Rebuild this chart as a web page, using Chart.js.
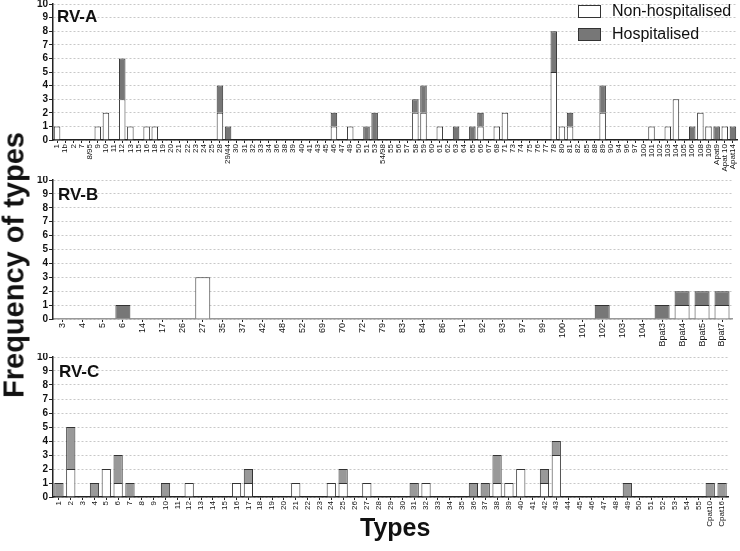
<!DOCTYPE html>
<html lang="en">
<head>
    <meta charset="UTF-8">
    <title>Frequency of RV types</title>
    <style>
        body {
            margin: 0;
            background: #fff;
            font-family: "Liberation Sans", Arial, sans-serif;
        }
        #wrap {
            position: relative;
            width: 740px;
            height: 551px;
            overflow: hidden;
        }
        canvas {
            position: absolute;
            left: 0;
        }
        .title {
            position: absolute;
            font-weight: bold;
            font-size: 17px;
            line-height: 1;
            color: #111;
        }
        .leg-box {
            position: absolute;
            left: 578px;
            width: 21px;
            height: 11px;
            border: 1px solid #333;
        }
        .leg-text {
            position: absolute;
            left: 612px;
            font-size: 16px;
            line-height: 1;
            color: #111;
        }
        #ytitle {
            position: absolute;
            left: 14px;
            top: 265px;
            transform: translate(-50%, -50%) rotate(-90deg);
            font-size: 29px;
            font-weight: bold;
            white-space: nowrap;
            color: #111;
        }
        #xtitle {
            position: absolute;
            left: 360px;
            top: 513px;
            font-size: 25px;
            font-weight: bold;
            color: #111;
        }
    </style>
    <script src="https://cdn.jsdelivr.net/npm/chart.js"></script>
</head>
<body>
<div id="wrap">
    <canvas id="chartA" width="740" height="180" style="top:0px"></canvas>
    <canvas id="chartB" width="740" height="170" style="top:176px"></canvas>
    <canvas id="chartC" width="740" height="180" style="top:353px"></canvas>

    <div class="title" style="left:57px; top:8px">RV-A</div>
    <div class="title" style="left:58px; top:186px">RV-B</div>
    <div class="title" style="left:59px; top:363px">RV-C</div>

    <div class="leg-box" style="top:5px; background:#fff"></div>
    <div class="leg-text" style="top:3px">Non-hospitalised</div>
    <div class="leg-box" style="top:28px; background:#777"></div>
    <div class="leg-text" style="top:26px">Hospitalised</div>

    <div id="ytitle">Frequency of types</div>
    <div id="xtitle">Types</div>
</div>

<script>
    // RV-A types
    const typesA = ["1", "1b", "2", "7", "8/95", "9", "10", "11", "12", "13",
        "15", "16", "18", "19", "20", "21", "22", "23", "24", "25",
        "28", "29/44", "30", "31", "32", "33", "34", "36", "38", "39",
        "40", "41", "43", "45", "46", "47", "49", "50", "51", "53",
        "54/98", "55", "56", "57", "58", "59", "60", "61", "62", "63",
        "64", "65", "66", "67", "68", "71", "73", "74", "75", "76",
        "77", "78", "80", "81", "82", "85", "88", "89", "90", "94",
        "96", "97", "100", "101", "102", "103", "104", "105", "106", "108",
        "109", "Apat9", "Apat 10", "Apat14"];
    const nonHospA = [1, 0, 0, 0, 0, 1, 2, 0, 3, 1,
        0, 1, 1, 0, 0, 0, 0, 0, 0, 0,
        2, 0, 0, 0, 0, 0, 0, 0, 0, 0,
        0, 0, 0, 0, 1, 0, 1, 0, 0, 0,
        0, 0, 0, 0, 2, 2, 0, 1, 0, 0,
        0, 0, 1, 0, 1, 2, 0, 0, 0, 0,
        0, 5, 1, 1, 0, 0, 0, 2, 0, 0,
        0, 0, 0, 1, 0, 1, 3, 0, 0, 2,
        1, 0, 1, 0];
    const hospA = [0, 0, 0, 0, 0, 0, 0, 0, 3, 0,
        0, 0, 0, 0, 0, 0, 0, 0, 0, 0,
        2, 1, 0, 0, 0, 0, 0, 0, 0, 0,
        0, 0, 0, 0, 1, 0, 0, 0, 1, 2,
        0, 0, 0, 0, 1, 2, 0, 0, 0, 1,
        0, 1, 1, 0, 0, 0, 0, 0, 0, 0,
        0, 3, 0, 1, 0, 0, 0, 2, 0, 0,
        0, 0, 0, 0, 0, 0, 0, 0, 1, 0,
        0, 1, 0, 1];

    // RV-B types
    const typesB = ["3", "4", "5", "6", "14", "17", "26", "27", "35", "37",
        "42", "48", "52", "69", "70", "72", "79", "83", "84", "86",
        "91", "92", "93", "97", "99", "100", "101", "102", "103", "104",
        "Bpat3", "Bpat4", "Bpat5", "Bpat7"];
    const nonHospB = [0, 0, 0, 0, 0, 0, 0, 3, 0, 0,
        0, 0, 0, 0, 0, 0, 0, 0, 0, 0,
        0, 0, 0, 0, 0, 0, 0, 0, 0, 0,
        0, 1, 1, 1];
    const hospB = [0, 0, 0, 1, 0, 0, 0, 0, 0, 0,
        0, 0, 0, 0, 0, 0, 0, 0, 0, 0,
        0, 0, 0, 0, 0, 0, 0, 1, 0, 0,
        1, 1, 1, 1];

    // RV-C types
    const typesC = ["1", "2", "3", "4", "5", "6", "7", "8", "9", "10",
        "11", "12", "13", "14", "15", "16", "17", "18", "19", "20",
        "21", "22", "23", "24", "25", "26", "27", "28", "29", "30",
        "31", "32", "33", "34", "35", "36", "37", "38", "39", "40",
        "41", "42", "43", "44", "45", "46", "47", "48", "49", "50",
        "51", "52", "53", "54", "55", "Cpat10", "Cpat16"];
    const nonHospC = [0, 2, 0, 0, 2, 1, 0, 0, 0, 0,
        0, 1, 0, 0, 0, 1, 1, 0, 0, 0,
        1, 0, 0, 1, 1, 0, 1, 0, 0, 0,
        0, 1, 0, 0, 0, 0, 0, 1, 1, 2,
        0, 1, 3, 0, 0, 0, 0, 0, 0, 0,
        0, 0, 0, 0, 0, 0, 0];
    const hospC = [1, 3, 0, 1, 0, 2, 1, 0, 0, 1,
        0, 0, 0, 0, 0, 0, 1, 0, 0, 0,
        0, 0, 0, 0, 1, 0, 0, 0, 0, 0,
        1, 0, 0, 0, 0, 1, 1, 2, 0, 0,
        0, 1, 1, 0, 0, 0, 0, 0, 1, 0,
        0, 0, 0, 0, 0, 1, 1];

    const yTicks = [0, 1, 2, 3, 4, 5, 6, 7, 8, 9, 10];
    const fontFamily = '"Liberation Sans", Arial, sans-serif';
    // no bottom edge: the axis or the bar below gives it
    const barEdge = { top: 1, left: 1, right: 1, bottom: 0 };

    // one panel = one stacked bar chart
    function drawPanel(id, labels, nonHosp, hosp, cfg) {
        const ctx = document.getElementById(id).getContext('2d');
        new Chart(ctx, {
            type: 'bar',
            data: {
                labels: labels,
                datasets: [
                    {
                        label: 'Non-hospitalised',
                        data: nonHosp.map(v => v || null),
                        backgroundColor: '#ffffff',
                        borderColor: '#333',
                        borderWidth: barEdge,
                        borderSkipped: false
                    },
                    {
                        label: 'Hospitalised',
                        data: hosp.map(v => v || null),
                        backgroundColor: cfg.hospColor,
                        borderColor: '#333',
                        borderWidth: barEdge,
                        borderSkipped: false
                    }
                ]
            },
            options: {
                responsive: false,
                animation: false,
                layout: { padding: { top: 4, right: cfg.right, left: 0, bottom: 0 } },
                datasets: { bar: { categoryPercentage: 1, barPercentage: cfg.barPct } },
                scales: {
                    x: {
                        stacked: true,
                        grid: {
                            offset: false,
                            drawOnChartArea: false,
                            tickColor: '#222',
                            tickLength: 3
                        },
                        border: { color: cfg.axisColor, width: 1.5 },
                        ticks: {
                            autoSkip: false,
                            maxRotation: 90,
                            minRotation: 90,
                            padding: 1,
                            color: '#111',
                            font: { family: fontFamily, size: cfg.labelSize }
                        },
                        afterFit: s => {
                            s.height = cfg.xHeight;
                            s.paddingLeft = 0;
                            s.paddingRight = 0;
                        }
                    },
                    y: {
                        stacked: true,
                        min: 0,
                        max: 10,
                        afterBuildTicks: s => { s.ticks = yTicks.map(v => ({ value: v })); },
                        grid: {
                            color: '#c8c8c8',
                            tickColor: '#222',
                            tickLength: 4,
                            lineWidth: 1
                        },
                        border: { color: '#222', width: 1.5, dash: [2, 2] },
                        ticks: {
                            autoSkip: false,
                            stepSize: 1,
                            padding: 1,
                            color: '#111',
                            font: { family: fontFamily, size: 10, weight: 'bold' }
                        },
                        afterFit: s => {
                            s.width = 53;
                            s.paddingTop = 0;
                            s.paddingBottom = 0;
                        }
                    }
                },
                plugins: {
                    legend: { display: false },
                    tooltip: { enabled: false }
                }
            }
        });
    }

    drawPanel('chartA', typesA, nonHospA, hospA,
        { hospColor: '#777', right: 3, xHeight: 40, barPct: 0.8, labelSize: 8, axisColor: '#222' });
    drawPanel('chartB', typesB, nonHospB, hospB,
        { hospColor: '#777', right: 8, xHeight: 27, barPct: 0.75, labelSize: 9, axisColor: '#999' });
    drawPanel('chartC', typesC, nonHospC, hospC,
        { hospColor: '#999', right: 12, xHeight: 36, barPct: 0.78, labelSize: 8, axisColor: '#222' });
</script>
</body>
</html>
